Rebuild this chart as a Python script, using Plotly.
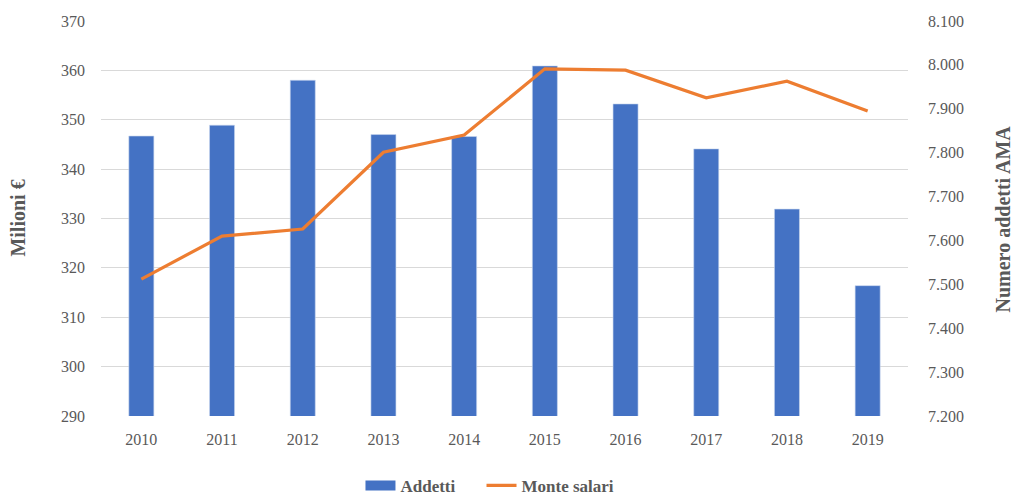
import plotly.graph_objects as go

years = ["2010", "2011", "2012", "2013", "2014", "2015", "2016", "2017", "2018", "2019"]
addetti = [346.7, 348.9, 358.0, 347.0, 346.6, 360.9, 353.2, 344.1, 331.9, 316.4]
monte_salari = [7512, 7610, 7626, 7801, 7840, 7991, 7988, 7925, 7963, 7895]

left_ticks = [290, 300, 310, 320, 330, 340, 350, 360, 370]
right_ticks = [7200, 7300, 7400, 7500, 7600, 7700, 7800, 7900, 8000, 8100]

FONT = "Liberation Serif"
TICK_COLOR = "#595959"
BLUE = "#4472C4"
ORANGE = "#ED7D31"

fig = go.Figure()
fig.add_trace(go.Bar(
    x=years, y=addetti, name="Addetti", showlegend=False,
    marker=dict(color=BLUE, line=dict(color="#c9d6ee", width=0.6)),
    yaxis="y",
))
fig.add_trace(go.Scatter(
    x=years, y=monte_salari, name="Monte salari", mode="lines", showlegend=False,
    line=dict(color=ORANGE, width=3.2),
    yaxis="y2",
))
# legend entries (no data points, legend swatches only)
fig.add_trace(go.Scatter(
    x=[None], y=[None], name="<b>Addetti</b>" + "&nbsp;" * 5, mode="lines",
    line=dict(color=BLUE, width=10), yaxis="y", hoverinfo="skip",
))
fig.add_trace(go.Scatter(
    x=[None], y=[None], name="<b>Monte salari</b>", mode="lines",
    line=dict(color=ORANGE, width=3.2), yaxis="y2", hoverinfo="skip",
))

fig.update_layout(
    width=1023, height=503,
    margin=dict(l=101, r=115, t=21, b=87, autoexpand=False),
    paper_bgcolor="white", plot_bgcolor="white",
    separators=",.",
    bargap=0.69,
    font=dict(family=FONT, size=16, color=TICK_COLOR),
    xaxis=dict(
        type="category", showgrid=False, showline=False, ticks="",
        automargin=False, ticklabelstandoff=12,
        tickfont=dict(family=FONT, size=16, color=TICK_COLOR),
    ),
    yaxis=dict(
        range=[290, 370], tickvals=left_ticks, showgrid=True,
        gridcolor="#d9d9d9", gridwidth=1, zeroline=False, showline=False,
        ticks="", automargin=False, ticklabelstandoff=15,
        tickfont=dict(family=FONT, size=16, color=TICK_COLOR),
    ),
    yaxis2=dict(
        range=[7200, 8100], tickvals=right_ticks, tickformat=",d",
        overlaying="y", side="right", showgrid=False, zeroline=False,
        showline=False, ticks="", automargin=False, ticklabelstandoff=19,
        tickfont=dict(family=FONT, size=16, color=TICK_COLOR),
    ),
    legend=dict(
        orientation="h", x=0.482, xanchor="center", y=-0.177, yanchor="middle",
        font=dict(family=FONT, size=17, color="#595959"),
    ),
    annotations=[
        dict(text="<b>Milioni €</b>", xref="paper", yref="paper",
             x=-0.104, y=0.5, xanchor="center", yanchor="middle",
             textangle=-90, showarrow=False,
             font=dict(family=FONT, size=20, color="#595959")),
        dict(text="<b>Numero addetti AMA</b>", xref="paper", yref="paper",
             x=1.1177, y=0.5, xanchor="center", yanchor="middle",
             textangle=-90, showarrow=False,
             font=dict(family=FONT, size=20, color="#595959")),
    ],
)

fig.write_html(
    "out.html",
    config={"displayModeBar": False},
    post_script="document.body.style.margin='0';document.body.style.overflow='hidden';",
)
